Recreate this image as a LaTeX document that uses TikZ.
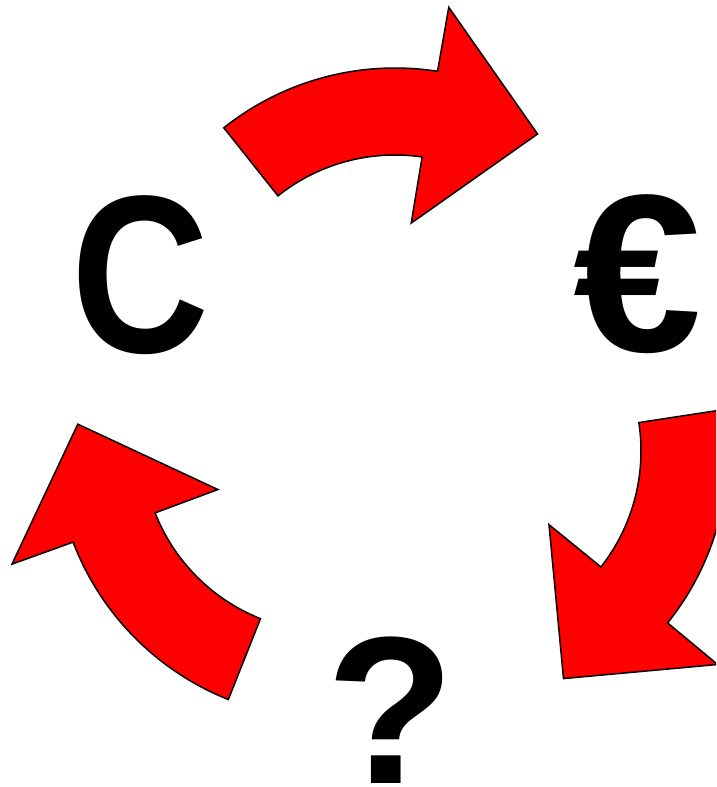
\documentclass[tikz,border=0pt]{standalone}
\usepackage{fontspec}
\setmainfont{Liberation Sans}
\tikzset{
  redarrow/.style={fill=red, draw=black, line width=1.5pt, line join=miter},
  glyph/.style={inner sep=0pt, font=\fontsize{210}{210}\selectfont\bfseries}
}
\newcommand\bendarrow[3]{%
  \draw[redarrow, shift={(#1pt,#2pt)}]
    (#3:275pt) arc[start angle=#3, end angle={#3-47.4}, radius=275pt]
    -- ({#3-47.6}:340pt) -- ({#3-72.8}:253pt) -- ({#3-46.2}:121pt)
    -- ({#3-46.8}:188pt) arc[start angle={#3-46.8}, end angle=#3, radius=188pt]
    -- cycle;}
\begin{document}
\begin{tikzpicture}
  \path[use as bounding box, clip] (0pt,0pt) rectangle (716pt,787pt);
  \fill[white] (0pt,0pt) rectangle (716pt,787pt);
  \bendarrow{395}{444}{128.5}
  \bendarrow{453}{336}{8.7}
  \bendarrow{330}{343}{248.3}
  \node[glyph, anchor=base] (c) at (141pt,434pt) {\scalebox{0.91}[1.07]{C}};
  \node[glyph, anchor=base] (euro) at (638pt,435pt) {\scalebox{1.1}[1.07]{€}};
  \node[glyph, anchor=base] (q) at (391pt,4pt) {?};
\end{tikzpicture}
\end{document}
